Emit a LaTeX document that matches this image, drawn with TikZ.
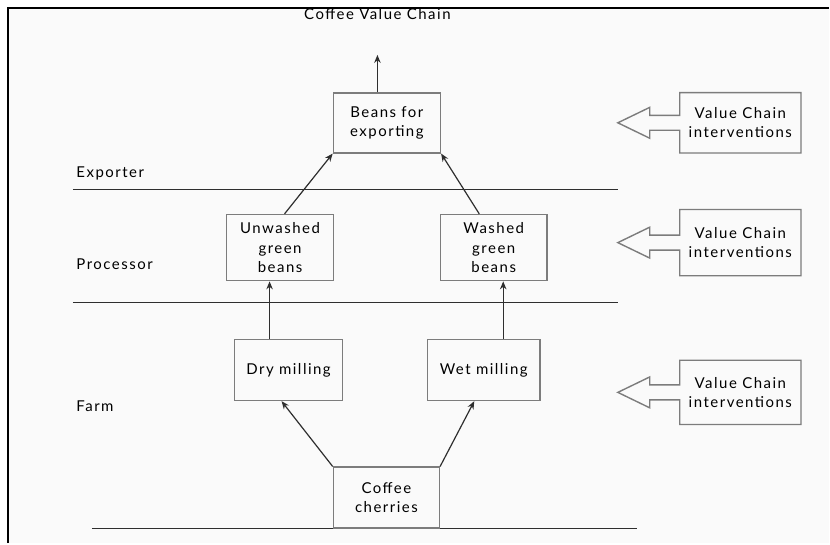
\documentclass[tikz,border=0pt]{standalone}
\usepackage{fontspec}
\setmainfont{Lato}[LetterSpace=10]
\usetikzlibrary{positioning,arrows.meta}
\definecolor{bg}{HTML}{FAFAFA}
\definecolor{boxline}{HTML}{7C7C7C}
\definecolor{ink}{HTML}{2E2E2E}

\begin{document}
\begin{tikzpicture}[x=1pt,y=-1pt,
  font=\fontsize{15}{19.5}\selectfont,
  box/.style={draw=boxline,line width=1.6pt,align=center,inner sep=0pt},
  flow/.style={ink,line width=1.2pt,-{Stealth[length=8pt,width=6.5pt]}},
  tier/.style={ink,line width=1.2pt},
  callout/.style={draw=boxline,line width=1.4pt,line join=miter}]
% page and frame
\fill[white] (0,0) rectangle (830,544);
\fill[bg] (8,8) rectangle (830,544);
\draw[black,line width=2.6pt] (8,544) -- (8,8) -- (830,8);

% tiers
\draw[tier] (73,190) -- (619,190);
\draw[tier] (73,303) -- (619,303);
\draw[tier] (92,529) -- (638,529);
\node[anchor=west] (exporter) at (73,174) {Exporter};
\node[anchor=west] (processor) at (73,265) {Processor};
\node[anchor=west] (farm) at (73,407) {Farm};

% chain
\node (title) at (378,14) {Coffee Value Chain};
\node[box,minimum width=107pt,minimum height=60pt] (export) at (387.5,123) {Beans for\\exporting};
\node[box,minimum width=107pt,minimum height=66pt] (unwashed) at (280.5,248) {Unwashed\\green\\beans};
\node[box,minimum width=107pt,minimum height=66pt] (washed) at (494.5,248) {Washed\\green\\beans};
\node[box,minimum width=108pt,minimum height=61pt] (dry) at (289,370.5) {Dry milling};
\node[box,minimum width=113pt,minimum height=61pt] (wet) at (484.5,370.5) {Wet milling};
\node[box,minimum width=106pt,minimum height=61pt] (cherries) at (387,498.5) {Coffee\\cherries};
\coordinate (out) at (378,55);

\draw[flow] (export.north -| out) -- (out);
\draw[flow] ([xshift=4.5pt]unwashed.north) -- (export.south west);
\draw[flow] ([xshift=-14.5pt]washed.north) -- (export.south east);
\draw[flow] ([xshift=-19pt]dry.north) -- ([xshift=-10.5pt]unwashed.south);
\draw[flow] ([xshift=19.5pt]wet.north) -- ([xshift=9.5pt]washed.south);
\draw[flow] (cherries.north west) -- ([xshift=-7pt]dry.south);
\draw[flow] (cherries.north east) -- ([xshift=-9.5pt]wet.south);

% interventions
\node[minimum width=121pt,minimum height=60pt,align=center] (vc1) at (741.5,123) {Value Chain\\interventions};
\node[minimum width=121pt,minimum height=66pt,align=center] (vc2) at (741.5,243) {Value Chain\\interventions};
\node[minimum width=121pt,minimum height=64pt,align=center] (vc3) at (741.5,393) {Value Chain\\interventions};
\foreach \v in {vc1,vc2,vc3}
  \draw[callout] (\v.north west) -- ([yshift=7.5pt]\v.west) -- ++(-30,0) -- ++(0,-8)
    -- ++(-32,15.5) -- ++(32,15.5) -- ++(0,-8) -- ([yshift=-7.5pt]\v.west)
    -- (\v.south west) -- (\v.south east) -- (\v.north east) -- cycle;
\end{tikzpicture}
\end{document}
